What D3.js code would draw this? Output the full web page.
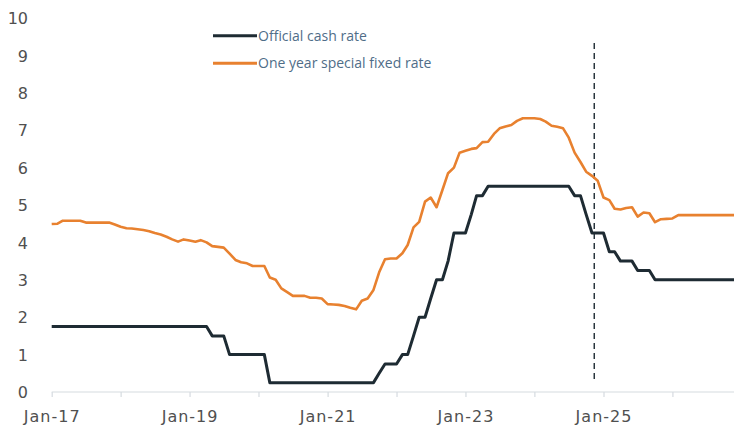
<!DOCTYPE html>
<html>
<head>
<meta charset="utf-8">
<script src="https://cdn.jsdelivr.net/npm/d3@7"></script>
<style>
  html, body { margin: 0; padding: 0; background: #ffffff; }
  svg { display: block; }
</style>
</head>
<body>
<svg id="chart" width="734" height="435"></svg>
<script>
// Monthly series starting Jan 2017
const startYear = 2017;

// Official cash rate (%), monthly
const cashRate = [
  1.75,1.75,1.75,1.75,1.75,1.75,1.75,1.75,1.75,1.75,1.75,1.75, // 2017
  1.75,1.75,1.75,1.75,1.75,1.75,1.75,1.75,1.75,1.75,1.75,1.75, // 2018
  1.75,1.75,1.75,1.75,1.5,1.5,1.5,1.0,1.0,1.0,1.0,1.0,          // 2019
  1.0,1.0,0.25,0.25,0.25,0.25,0.25,0.25,0.25,0.25,0.25,0.25,    // 2020
  0.25,0.25,0.25,0.25,0.25,0.25,0.25,0.25,0.25,0.5,0.75,0.75,   // 2021
  0.75,1.0,1.0,1.5,2.0,2.0,2.5,3.0,3.0,3.5,4.25,4.25,           // 2022
  4.25,4.75,5.25,5.25,5.5,5.5,5.5,5.5,5.5,5.5,5.5,5.5,          // 2023
  5.5,5.5,5.5,5.5,5.5,5.5,5.5,5.25,5.25,4.75,4.25,4.25,         // 2024
  4.25,3.75,3.75,3.5,3.5,3.5,3.25,3.25,3.25,3.0,3.0,3.0,        // 2025
  3.0,3.0,3.0,3.0,3.0,3.0,3.0,3.0,3.0,3.0,3.0,3.0               // 2026
];

// One year special fixed mortgage rate (%), monthly
const fixedRate = [
  4.49,4.50,4.58,4.58,4.58,4.58,4.53,4.53,4.53,4.53,4.53,4.48, // 2017
  4.42,4.38,4.37,4.35,4.33,4.30,4.25,4.21,4.15,4.08,4.02,4.08, // 2018
  4.05,4.02,4.06,4.00,3.90,3.88,3.86,3.70,3.53,3.47,3.44,3.37, // 2019
  3.37,3.37,3.06,3.00,2.77,2.67,2.57,2.57,2.57,2.52,2.52,2.50, // 2020
  2.35,2.34,2.33,2.30,2.25,2.21,2.44,2.50,2.73,3.20,3.55,3.57, // 2021
  3.57,3.71,3.93,4.40,4.55,5.09,5.20,4.94,5.40,5.85,6.00,6.40, // 2022
  6.45,6.50,6.52,6.68,6.69,6.90,7.05,7.10,7.14,7.25,7.32,7.32, // 2023
  7.32,7.30,7.23,7.12,7.09,7.05,6.80,6.40,6.15,5.89,5.78,5.65, // 2024
  5.20,5.13,4.90,4.88,4.92,4.94,4.69,4.80,4.78,4.54,4.62,4.63, // 2025
  4.64,4.73,4.73,4.73,4.73,4.73,4.73,4.73,4.73,4.73,4.73,4.73  // 2026
];

const seriesNames = ["Official cash rate", "One year special fixed rate"];
const seriesColors = ["#1e2b33", "#e8812f"];
const yTicks = [0, 1, 2, 3, 4, 5, 6, 7, 8, 9, 10];
const labelYears = [2017, 2019, 2021, 2023, 2025];
const markerDate = new Date(2024, 10, 13);

const monthDate = i => new Date(startYear, i, 1);

const svg = d3.select("#chart");

const x = d3.scaleTime()
  .domain([monthDate(0), monthDate(cashRate.length - 1)])
  .range([51.7, 735.5]);

const y = d3.scaleLinear()
  .domain([0, 10])
  .range([392, 18]);

const tickColor = "#d6dbe0";
const textColor = "#505050";

// y-axis labels (no axis line)
const yAxis = d3.axisLeft(y).tickValues(yTicks).tickSize(0).tickPadding(0).tickFormat(d3.format("d"));
const gy = svg.append("g").attr("transform", "translate(28,0)").call(yAxis);
gy.select(".domain").remove();
gy.selectAll("text")
  .attr("fill", textColor)
  .attr("font-family", "DejaVu Sans, sans-serif")
  .attr("font-size", 16)
  .attr("dy", "0.36em");

// x-axis baseline with yearly ticks and biennial labels
const yearTicks = d3.range(2017, 2027).map(yr => new Date(yr, 0, 1));
const xAxis = d3.axisBottom(x)
  .tickValues(yearTicks)
  .tickSize(5)
  .tickFormat(d => labelYears.includes(d.getFullYear()) ? d3.timeFormat("%b-%y")(d) : "")
  .tickPadding(14);
const gx = svg.append("g").attr("transform", "translate(0,392)").call(xAxis);
gx.select(".domain")
  .attr("d", `M51.7,0H734`)
  .attr("stroke", tickColor)
  .attr("stroke-width", 1.2);
gx.selectAll(".tick line").attr("stroke", tickColor).attr("stroke-width", 1.2);
gx.selectAll(".tick text")
  .attr("fill", textColor)
  .attr("font-family", "DejaVu Sans, sans-serif")
  .attr("font-size", 16)
  .attr("letter-spacing", "1px");

// vertical dashed marker
svg.append("line")
  .attr("x1", x(markerDate)).attr("x2", x(markerDate))
  .attr("y1", 43).attr("y2", 383)
  .attr("stroke", "#1e2b33")
  .attr("stroke-width", 1.4)
  .attr("stroke-dasharray", "6,4");

const line = d3.line()
  .x((d, i) => x(monthDate(i)))
  .y(d => y(d));

svg.append("defs").append("clipPath").attr("id", "plotClip")
  .append("rect").attr("x", 40).attr("y", 0).attr("width", 694).attr("height", 435);

const plot = svg.append("g").attr("clip-path", "url(#plotClip)");

plot.append("path")
  .datum(fixedRate)
  .attr("fill", "none")
  .attr("stroke", seriesColors[1])
  .attr("stroke-width", 2.6)
  .attr("stroke-linejoin", "round")
  .attr("d", line);

plot.append("path")
  .datum(cashRate)
  .attr("fill", "none")
  .attr("stroke", seriesColors[0])
  .attr("stroke-width", 3)
  .attr("stroke-linejoin", "round")
  .attr("d", line);

// legend
const legend = svg.append("g");
seriesNames.forEach((name, i) => {
  const ly = 35.7 + i * 27.6;
  legend.append("line")
    .attr("x1", 213).attr("x2", 257)
    .attr("y1", ly).attr("y2", ly)
    .attr("stroke", seriesColors[i])
    .attr("stroke-width", 3);
  legend.append("text")
    .attr("x", 258).attr("y", ly)
    .attr("dy", "0.35em")
    .attr("fill", "#4f6d88")
    .attr("font-family", "Open Sans, sans-serif")
    .attr("font-size", 14)
    .text(name);
});
</script>
</body>
</html>
